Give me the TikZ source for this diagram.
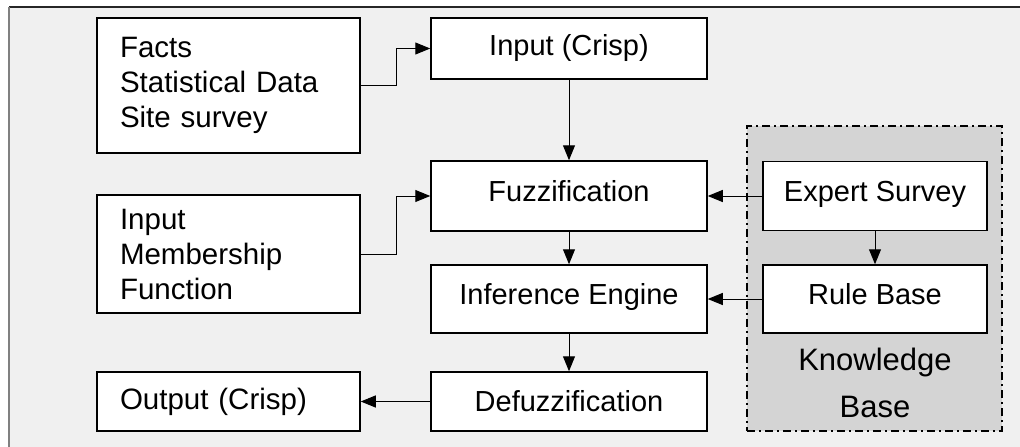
\documentclass[tikz,border=0pt]{standalone}
\usepackage{fontspec}
\setmainfont{Liberation Sans}
\usepackage{tikz}
\usetikzlibrary{arrows.meta, positioning}
\definecolor{panelgray}{RGB}{240,240,240}
\definecolor{kbgray}{RGB}{212,212,212}
\definecolor{framegray}{RGB}{128,128,128}

\begin{document}
\begin{tikzpicture}[x=1pt, y=-1pt,
    srcblock/.style={rectangle, draw=black, fill=white, line width=1.5pt, text width=217pt, inner xsep=23pt, inner ysep=0pt, align=left, minimum height=#1, font=\fontsize{29.5}{35}\selectfont},
    block/.style={rectangle, draw=black, fill=white, line width=1.5pt, align=center, minimum width=276pt, inner sep=0pt, minimum height=#1, font=\fontsize{29}{35}\selectfont},
    kbblock/.style={rectangle, draw=black, fill=white, line width=1.5pt, align=center, minimum width=224pt, inner sep=0pt, minimum height=#1, font=\fontsize{29}{35}\selectfont},
    lifted/.style={text height=22pt, text depth=12pt},
    kbzone/.style={rectangle, draw=black, fill=kbgray, line width=1.3pt, dash pattern=on 8pt off 4pt on 2pt off 4pt},
    arrow/.style={line width=1pt, -{Triangle[length=15pt, width=12pt]}}]

    \useasboundingbox (0,0) rectangle (1020,447);

    % Frame
    \fill[panelgray] (9,7) rectangle (1020,447);
    \draw[black!85, line width=1.2pt] (9,7) -- (1020,7);
    \draw[framegray, line width=1.5pt] (9,7) -- (9,447);

    % Knowledge base
    \node[kbzone, minimum width=255pt, minimum height=305pt] (kb) at (874.5,278.5) {};
    \node[font=\fontsize{31}{47}\selectfont, align=center] (kblabel) at (875,383) {Knowledge\\Base};

    % Sources
    \node[srcblock=135pt] (facts) at (228.5,85.5) {Facts\\Statistical Data\\Site survey};
    \node[srcblock=118pt] (member) at (228.5,254) {Input\\Membership\\Function};
    \node[srcblock=59pt] (output) at (228.5,401.5) {Output (Crisp)};

    % Fuzzy system
    \node[block=61pt] (input) at (569,48.5) {Input (Crisp)};
    \node[block=70pt, lifted] (fuzz) at (569,196) {Fuzzification};
    \node[block=68pt, lifted] (infer) at (569,299) {Inference Engine};
    \node[block=59pt] (defuzz) at (569,401.5) {Defuzzification};

    \node[kbblock=69pt, lifted] (expert) at (875,196) {Expert Survey};
    \node[kbblock=68pt, lifted] (rule) at (875,299) {Rule Base};

    % Connections
    \draw[arrow] (facts.east) -- ++(36,0) |- (input.west);
    \draw[arrow] (member.east) -- ++(36,0) |- (fuzz.west);
    \draw[arrow] (input) -- (fuzz);
    \draw[arrow] (fuzz) -- (infer);
    \draw[arrow] (infer) -- (defuzz);
    \draw[arrow] (expert) -- (fuzz);
    \draw[arrow] (rule) -- (infer);
    \draw[arrow] (expert) -- (rule);
    \draw[arrow] (defuzz) -- (output);
\end{tikzpicture}
\end{document}
